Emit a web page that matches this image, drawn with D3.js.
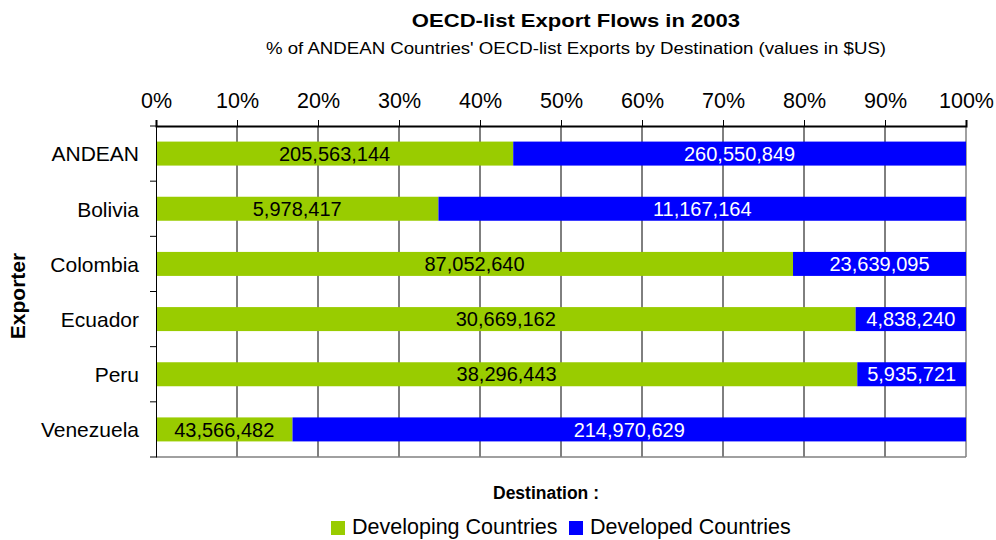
<!DOCTYPE html>
<html>
<head>
<meta charset="utf-8">
<script src="https://cdn.jsdelivr.net/npm/d3@7"></script>
<style>
  body { margin: 0; background: #fff; }
  svg text { font-family: "Liberation Sans", Arial, sans-serif; }
</style>
</head>
<body>
<div id="chart"></div>
<script>
const countries = ['ANDEAN', 'Bolivia', 'Colombia', 'Ecuador', 'Peru', 'Venezuela'];
const developing = [205563144, 5978417, 87052640, 30669162, 38296443, 43566482];
const developed = [260550849, 11167164, 23639095, 4838240, 5935721, 214970629];
const seriesNames = ['Developing Countries', 'Developed Countries'];
const tickValues = [0, 0.1, 0.2, 0.3, 0.4, 0.5, 0.6, 0.7, 0.8, 0.9, 1];

const W = 996, H = 540;
const plotL = 156, plotR = 966, plotT = 126, plotB = 457;
const colors = ['#99cc00', '#0000ff'];
const fmt = d3.format(',');

const svg = d3.select('#chart').append('svg')
  .attr('width', W)
  .attr('height', H);

const x = d3.scaleLinear().domain([0, 1]).range([plotL, plotR]);
const y = d3.scaleBand().domain(countries).range([plotT, plotB]).paddingInner(0.565).paddingOuter(0.2825);

// the original renders its titles a little wide, stretch them to match
function widen(sel, f) {
  const len = sel.node().getComputedTextLength();
  sel.attr('textLength', len * f).attr('lengthAdjust', 'spacingAndGlyphs');
}

// titles
const title = svg.append('text')
  .attr('x', 576).attr('y', 27)
  .attr('text-anchor', 'middle')
  .style('font-size', '19px').style('font-weight', 'bold')
  .text('OECD-list Export Flows in 2003');
widen(title, 1.16);
const subtitle = svg.append('text')
  .attr('x', 576).attr('y', 54)
  .attr('text-anchor', 'middle')
  .style('font-size', '16.5px')
  .text("% of ANDEAN Countries' OECD-list Exports by Destination (values in $US)");
widen(subtitle, 1.13);

// grid lines
svg.append('g').selectAll('line')
  .data(tickValues.slice(1, -1))
  .enter().append('line')
  .attr('x1', d => x(d)).attr('x2', d => x(d))
  .attr('y1', plotT).attr('y2', plotB)
  .attr('stroke', '#000').attr('stroke-width', 1);

// plot border right/bottom (grey)
svg.append('line')
  .attr('x1', plotR).attr('x2', plotR).attr('y1', plotT).attr('y2', plotB)
  .attr('stroke', '#808080').attr('stroke-width', 1.5);
svg.append('line')
  .attr('x1', plotL).attr('x2', plotR).attr('y1', plotB).attr('y2', plotB)
  .attr('stroke', '#808080').attr('stroke-width', 1.5);

// stacked bars
const rows = countries.map((c, i) => {
  const tot = developing[i] + developed[i];
  return { c: c, vals: [developing[i], developed[i]], p: developing[i] / tot };
});

rows.forEach(r => {
  const segs = [
    { x0: 0, x1: r.p, v: r.vals[0], k: 0 },
    { x0: r.p, x1: 1, v: r.vals[1], k: 1 }
  ];
  const g = svg.append('g');
  g.selectAll('rect').data(segs).enter().append('rect')
    .attr('x', d => x(d.x0))
    .attr('y', y(r.c))
    .attr('width', d => x(d.x1) - x(d.x0))
    .attr('height', y.bandwidth())
    .attr('fill', d => colors[d.k]);
  g.selectAll('text').data(segs).enter().append('text')
    .attr('x', d => (x(d.x0) + x(d.x1)) / 2)
    .attr('y', y(r.c) + y.bandwidth() / 2)
    .attr('dy', '0.36em')
    .attr('text-anchor', 'middle')
    .style('font-size', '20px')
    .attr('fill', d => d.k === 0 ? '#000' : '#fff')
    .text(d => fmt(d.v));
});

// top axis
const xAxis = d3.axisTop(x).tickValues(tickValues).tickFormat(d3.format('.0%')).tickSize(6).tickPadding(12);
const gx = svg.append('g').attr('transform', 'translate(0,' + plotT + ')').call(xAxis);
gx.select('.domain').attr('stroke', '#000').attr('stroke-width', 2);
gx.selectAll('text').style('font-size', '21.5px').attr('fill', '#000')
  .style('font-family', '"Liberation Sans", Arial, sans-serif');

// left axis
const yAxis = d3.axisLeft(y).tickSize(0).tickPadding(17);
const gy = svg.append('g').attr('transform', 'translate(' + plotL + ',0)').call(yAxis);
gy.select('.domain').attr('stroke', '#000');
gy.selectAll('text').style('font-size', '21px').attr('fill', '#000').attr('dy', '0.37em')
  .style('font-family', '"Liberation Sans", Arial, sans-serif');
// tick marks between categories
const bounds = d3.range(countries.length + 1).map(i => plotT + i * y.step());
gy.selectAll('.bound').data(bounds).enter().append('line')
  .attr('class', 'bound')
  .attr('x1', -6).attr('x2', 0)
  .attr('y1', d => d).attr('y2', d => d)
  .attr('stroke', '#000');

// axis titles
svg.append('text')
  .attr('transform', 'translate(25,296) rotate(-90)')
  .attr('text-anchor', 'middle')
  .style('font-size', '21px').style('font-weight', 'bold')
  .text('Exporter');
svg.append('text')
  .attr('x', 546).attr('y', 499)
  .attr('text-anchor', 'middle')
  .style('font-size', '17.5px').style('font-weight', 'bold')
  .text('Destination :');

// legend (nudged up a little so descenders stay inside the page)
const legendX = [331, 569];
seriesNames.forEach((n, i) => {
  svg.append('rect')
    .attr('x', legendX[i]).attr('y', 521)
    .attr('width', 14).attr('height', 14)
    .attr('fill', colors[i]);
  svg.append('text')
    .attr('x', legendX[i] + 21).attr('y', 534)
    .style('font-size', '21.5px')
    .text(n);
});
</script>
</body>
</html>
